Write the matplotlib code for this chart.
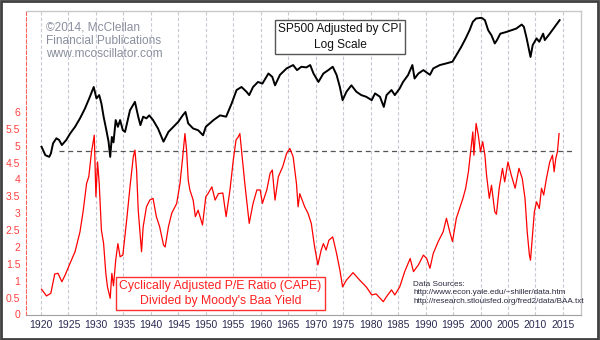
import matplotlib
matplotlib.use("Agg")
import matplotlib.pyplot as plt
from matplotlib.patches import Rectangle

plt.rcParams['font.family'] = ['Liberation Sans', 'DejaVu Sans']

# CAPE divided by Moody's Baa yield (decimal years, ratio)
cape_years = [1920.1, 1921.0, 1921.8, 1922.5, 1923.1, 1923.8, 1924.4, 1925.3, 1926.2, 1927.1,
              1927.7, 1928.3, 1928.7, 1929.2, 1929.7, 1930.0, 1930.3, 1930.6, 1931.0, 1931.4,
              1931.8, 1932.1, 1932.6, 1932.9, 1933.2, 1933.6, 1934.0, 1934.4, 1934.9, 1935.6,
              1936.2, 1936.8, 1937.1, 1937.4, 1937.7, 1938.3, 1938.6, 1939.2, 1939.8, 1940.4,
              1941.0, 1941.6, 1942.3, 1942.6, 1943.2, 1943.8, 1944.7, 1945.3, 1945.8, 1946.2,
              1946.5, 1946.8, 1947.1, 1947.7, 1948.1, 1948.6, 1949.4, 1950.0, 1950.4, 1951.1,
              1951.7, 1952.3, 1953.1, 1953.7, 1954.4, 1955.0, 1955.5, 1955.9, 1956.2, 1956.5,
              1957.1, 1957.9, 1958.6, 1959.3, 1959.9, 1960.3, 1961.1, 1961.7, 1962.1, 1962.6,
              1963.2, 1964.0, 1964.7, 1965.3, 1965.9, 1966.5, 1966.8, 1967.1, 1968.0, 1968.6,
              1969.2, 1969.8, 1970.4, 1971.0, 1971.4, 1971.9, 1972.4, 1973.1, 1973.8, 1974.4,
              1974.9, 1975.6, 1976.8, 1978.0, 1979.2, 1980.2, 1981.0, 1982.3, 1982.9, 1983.8,
              1984.4, 1985.3, 1986.2, 1987.2, 1987.8, 1988.7, 1989.6, 1990.2, 1990.8, 1991.4,
              1992.3, 1993.2, 1993.8, 1994.4, 1994.9, 1995.6, 1996.2, 1996.8, 1997.3, 1997.8,
              1998.2, 1998.6, 1998.8, 1999.2, 1999.6, 2000.0, 2000.4, 2000.8, 2001.1, 2001.6,
              2002.0, 2002.6, 2002.9, 2003.4, 2004.0, 2004.4, 2005.0, 2005.6, 2006.3, 2007.0,
              2007.6, 2008.1, 2008.5, 2008.9, 2009.1, 2009.5, 2009.8, 2010.2, 2010.7, 2011.1,
              2011.5, 2012.0, 2012.6, 2013.1, 2013.4, 2013.7, 2014.0, 2014.3]
cape_baa = [0.75, 0.55, 0.63, 1.20, 1.22, 0.97, 1.17, 1.52, 1.86, 2.45,
            3.09, 3.88, 4.08, 4.82, 5.31, 3.49, 4.52, 3.88, 2.50, 2.10,
            1.22, 0.82, 0.48, 1.22, 0.85, 1.61, 2.10, 1.71, 1.76, 2.80,
            3.78, 4.67, 4.87, 4.28, 3.09, 1.86, 2.60, 3.19, 3.39, 3.44,
            2.90, 2.60, 2.06, 2.00, 2.60, 3.00, 3.29, 3.88, 4.67, 5.36,
            4.87, 3.98, 3.69, 3.39, 2.90, 3.09, 2.65, 3.49, 3.58, 3.78,
            3.39, 3.58, 3.60, 2.90, 3.69, 4.57, 5.17, 5.26, 5.36, 4.87,
            3.88, 2.70, 3.29, 3.69, 3.69, 3.29, 3.69, 4.18, 4.28, 3.39,
            4.08, 4.38, 4.77, 4.92, 4.67, 3.88, 3.19, 3.58, 3.19, 3.00,
            2.70, 2.01, 1.47, 1.91, 2.10, 1.91, 2.20, 2.30, 1.81, 1.32,
            0.82, 1.02, 1.24, 1.02, 0.82, 0.58, 0.61, 0.38, 0.53, 0.73,
            0.58, 0.82, 1.27, 1.66, 1.27, 1.47, 1.76, 1.66, 1.37, 1.81,
            2.16, 2.45, 2.85, 2.45, 2.16, 2.85, 3.14, 3.44, 3.74, 4.23,
            4.82, 5.41, 4.72, 5.66, 5.31, 4.82, 5.12, 4.72, 4.13, 3.44,
            3.83, 3.04, 2.97, 3.74, 4.33, 3.93, 4.52, 4.13, 3.74, 4.33,
            4.03, 3.44, 2.45, 1.76, 1.61, 2.45, 3.04, 3.34, 3.14, 3.74,
            3.54, 4.03, 4.52, 4.72, 4.23, 4.62, 4.82, 5.36]

# real S&P 500, log scale, in units of the left axis
sp_years = [1920.1, 1920.8, 1921.5, 1921.8, 1922.2, 1922.8, 1923.3, 1923.8, 1924.6, 1925.3,
            1926.2, 1927.1, 1928.0, 1928.9, 1929.6, 1930.1, 1930.6, 1931.0, 1931.4, 1931.9,
            1932.3, 1932.6, 1932.9, 1933.2, 1933.6, 1934.0, 1934.4, 1934.9, 1935.3, 1936.2,
            1937.1, 1937.7, 1938.1, 1938.6, 1939.2, 1939.7, 1940.4, 1941.3, 1942.3, 1943.2,
            1944.1, 1945.0, 1945.8, 1946.3, 1946.8, 1947.7, 1948.6, 1949.5, 1950.0, 1951.4,
            1952.6, 1953.7, 1954.7, 1955.6, 1956.5, 1957.4, 1957.9, 1958.6, 1959.5, 1960.3,
            1961.4, 1962.1, 1962.6, 1963.5, 1964.7, 1965.9, 1966.6, 1967.4, 1968.3, 1969.0,
            1969.6, 1970.5, 1971.4, 1972.3, 1973.1, 1973.8, 1974.4, 1974.9, 1975.6, 1976.5,
            1977.4, 1978.3, 1979.2, 1980.2, 1980.8, 1981.7, 1982.4, 1982.9, 1983.8, 1984.4,
            1985.3, 1985.9, 1986.8, 1987.6, 1988.0, 1988.7, 1989.6, 1990.8, 1991.4, 1992.6,
            1993.8, 1994.9, 1995.6, 1996.5, 1997.3, 1998.0, 1998.6, 1999.2, 2000.2, 2000.8,
            2001.4, 2002.0, 2002.6, 2003.0, 2003.6, 2004.7, 2005.6, 2006.5, 2007.5, 2007.9,
            2008.4, 2008.9, 2009.1, 2009.5, 2010.2, 2010.7, 2011.4, 2011.7, 2012.6, 2013.5,
            2014.4]
sp_log = [4.97, 4.72, 4.67, 4.77, 5.07, 5.22, 5.17, 5.02, 5.17, 5.36,
          5.56, 5.81, 6.10, 6.45, 6.74, 6.40, 6.50, 6.25, 5.86, 5.46,
          5.12, 4.67, 5.26, 5.10, 5.76, 5.56, 5.76, 5.46, 5.41, 6.05,
          6.30, 5.86, 5.61, 5.86, 5.81, 5.90, 5.76, 5.51, 5.12, 5.41,
          5.56, 5.71, 5.90, 6.00, 5.66, 5.51, 5.46, 5.31, 5.56, 5.76,
          5.90, 5.86, 6.25, 6.65, 6.74, 6.60, 6.50, 6.74, 6.89, 6.84,
          7.14, 7.04, 6.79, 7.10, 7.29, 7.39, 7.24, 7.34, 7.32, 7.39,
          7.14, 6.89, 7.14, 7.24, 7.34, 7.10, 6.74, 6.35, 6.60, 6.79,
          6.60, 6.50, 6.45, 6.35, 6.55, 6.45, 6.15, 6.50, 6.65, 6.50,
          6.70, 6.89, 7.09, 7.39, 6.99, 7.14, 7.24, 7.10, 7.29, 7.39,
          7.44, 7.49, 7.68, 7.93, 8.18, 8.42, 8.67, 8.77, 8.79, 8.72,
          8.42, 8.27, 8.03, 8.13, 8.32, 8.37, 8.42, 8.47, 8.59, 8.52,
          8.18, 7.78, 7.63, 7.98, 8.18, 8.08, 8.32, 8.13, 8.32, 8.52,
          8.72]

ref_level = 4.84
year_ticks = list(range(1920, 2016, 5))
value_ticks = [0, 0.5, 1, 1.5, 2, 2.5, 3, 3.5, 4, 4.5, 5, 5.5, 6]
value_labels = ['0', '0.5', '1', '1.5', '2', '2.5', '3', '3.5', '4', '4.5', '5', '5.5', '6']

fig = plt.figure(figsize=(6, 3.4), dpi=100)
ax = fig.add_axes([0.0433, 0.075, 0.9242, 0.8935])
ax.set_xlim(1917.27, 2018.2)
ax.set_ylim(0, 9.0)

# vertical dashed grid every 5 years
for yr in year_ticks:
    ax.axvline(yr, color='#c8c8d4', lw=0.8, ls=(0, (3, 2)), zorder=0)

ax.plot([1923.2, 2016.8], [ref_level, ref_level], color='#555555', lw=0.9,
        ls=(0, (4, 3)), zorder=2)
ax.plot(cape_years, cape_baa, color='#ff0000', lw=0.9, zorder=3)

sp_ax = ax.twinx()
sp_ax.set_ylim(0, 9.0)
sp_ax.plot(sp_years, sp_log, color='black', lw=1.4, zorder=3)
sp_ax.set_yticks([])
for s in sp_ax.spines.values():
    s.set_visible(False)

ax.set_xticks(year_ticks)
ax.set_xticklabels([str(y) for y in year_ticks], fontsize=7.5, color='#2a2a50')
ax.set_yticks(value_ticks)
ax.set_yticklabels(value_labels, fontsize=7.5, color='#ff4040')
ax.tick_params(axis='both', length=0, pad=4)

ax.spines['left'].set_color('#ff6060')
ax.spines['left'].set_linestyle((0, (3, 2)))
ax.spines['left'].set_linewidth(0.8)
for side in ['top', 'right']:
    ax.spines[side].set_color('#c8c8c8')
    ax.spines[side].set_linewidth(1.0)
ax.spines['bottom'].set_color('#a0a0a0')

fig.text(46 / 600, 1 - 21.5 / 340,
         '©2014, McClellan\nFinancial Publications\nwww.mcoscillator.com',
         fontsize=8.6, color='#8a8f9e', va='top', ha='left', linespacing=1.12)

fig.text(340 / 600, 1 - 37 / 340, 'SP500 Adjusted by CPI\nLog Scale',
         fontsize=8.6, color='#111111', ha='center', va='center', linespacing=1.35,
         bbox=dict(boxstyle='square,pad=0.28', fc='white', ec='#555555', lw=1.0))

fig.text(220.5 / 600, 1 - 293.5 / 340,
         'Cyclically Adjusted P/E Ratio (CAPE)\nDivided by Moody\'s Baa Yield',
         fontsize=8.8, color='#ff2020', ha='center', va='center', linespacing=1.25,
         bbox=dict(boxstyle='square,pad=0.25', fc='white', ec='#ff3030', lw=1.0))

fig.text(413 / 600, 1 - 281 / 340,
         'Data Sources:\nhttp://www.econ.yale.edu/~shiller/data.htm\n'
         'http://research.stlouisfed.org/fred2/data/BAA.txt',
         fontsize=5.9, color='#2a2a40', ha='left', va='top', linespacing=1.3)

# dark frame round the whole picture
fig.patches.append(Rectangle((0.002, 0.003), 0.994, 0.994, transform=fig.transFigure,
                             fill=False, ec='#404040', lw=2))

fig.savefig('out.png', dpi=100)
